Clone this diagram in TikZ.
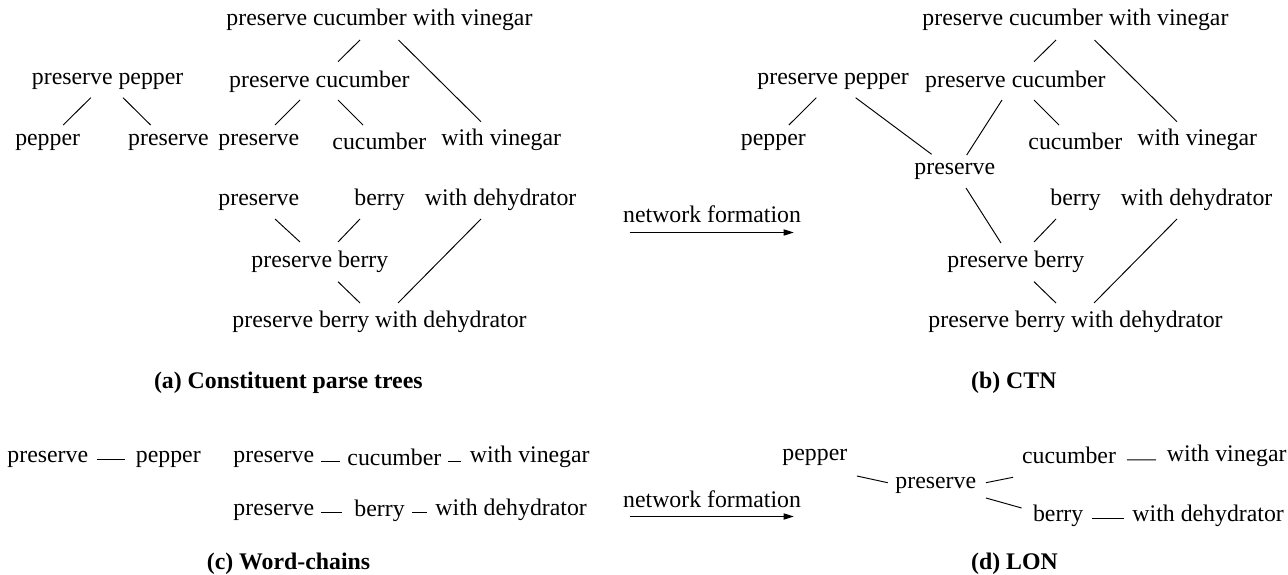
\documentclass[tikz,border=0pt]{standalone}
\usepackage{fontspec}
\setmainfont{Liberation Serif}
\usetikzlibrary{calc,arrows.meta}
\begin{document}
\begin{tikzpicture}[x=0.42017pt,y=-0.42017pt,
  font=\fontsize{10}{12}\selectfont,
  lbl/.style={inner sep=0pt, anchor=base west},
  captxt/.style={inner sep=0pt, anchor=base, font=\fontsize{10}{12}\selectfont\bfseries},
  edge/.style={line width=0.4pt},
  flow/.style={line width=0.45pt,-{Triangle[length=4.2pt,width=2.6pt]}}]
\useasboundingbox (0,0) rectangle (1288,575);

% ---------------- (a) constituent parse trees
\node[lbl] (A1) at (226,26) {preserve cucumber with vinegar};
\node[lbl] (A2) at (228.7,88) {preserve cucumber};
\node[lbl] (A3) at (31.5,85) {preserve pepper};
\node[lbl] (A4) at (14.8,146) {pepper};
\node[lbl] (A5) at (127.7,146) {preserve};
\node[lbl] (A6) at (218,146) {preserve};
\node[lbl] (A7) at (332,150) {cucumber};
\node[lbl] (A8) at (441,146) {with vinegar};
\node[lbl] (A9) at (218,206) {preserve};
\node[lbl] (A10) at (354,206) {berry};
\node[lbl] (A11) at (424.5,206) {with dehydrator};
\node[lbl] (A12) at (251,268) {preserve berry};
\node[lbl] (A13) at (232,328) {preserve berry with dehydrator};

\draw[edge] ($(A1.base west)+(134,14)$) -- ($(A2.base west)+(109.3,-26.3)$);
\draw[edge] ($(A1.base west)+(172.5,14)$) -- ($(A8.base west)+(40,-24.3)$);
\draw[edge] ($(A3.base west)+(59.3,12.7)$) -- ($(A4.base west)+(48.4,-21)$);
\draw[edge] ($(A3.base west)+(91.5,12.7)$) -- ($(A5.base west)+(22.9,-21)$);
\draw[edge] ($(A2.base west)+(71.3,12)$) -- ($(A6.base west)+(57,-21)$);
\draw[edge] ($(A2.base west)+(109.3,12)$) -- ($(A7.base west)+(31,-25)$);
\draw[edge] ($(A9.base west)+(57,13)$) -- ($(A12.base west)+(49,-26)$);
\draw[edge] ($(A10.base west)+(6,13)$) -- ($(A12.base west)+(87,-26)$);
\draw[edge] ($(A11.base west)+(56.5,13)$) -- ($(A13.base west)+(166,-25)$);
\draw[edge] ($(A12.base west)+(87,13.7)$) -- ($(A13.base west)+(128,-25)$);

\node[captxt] (CA) at (288.3,389) {(a) Constituent parse trees};

% ---------------- network formation arrows
\node[lbl] (N1) at (622.7,223) {network formation};
\draw[flow] ($(N1.base west)+(7,9.5)$) -- ($(N1.base west)+(171,9.5)$);
\node[lbl] (N2) at (622.7,507) {network formation};
\draw[flow] ($(N2.base west)+(7,9.5)$) -- ($(N2.base west)+(171,9.5)$);

% ---------------- (b) CTN
\node[lbl] (B1) at (922,26) {preserve cucumber with vinegar};
\node[lbl] (B2) at (924.7,88) {preserve cucumber};
\node[lbl] (B3) at (757,85) {preserve pepper};
\node[lbl] (B4) at (740.5,146) {pepper};
\node[lbl] (B5) at (1028,150) {cucumber};
\node[lbl] (B6) at (1137,146) {with vinegar};
\node[lbl] (B7) at (914,175) {preserve};
\node[lbl] (B8) at (1050,206) {berry};
\node[lbl] (B9) at (1120.5,206) {with dehydrator};
\node[lbl] (B10) at (947,268) {preserve berry};
\node[lbl] (B11) at (928,328) {preserve berry with dehydrator};

\draw[edge] ($(B1.base west)+(134,14)$) -- ($(B2.base west)+(109.3,-26.3)$);
\draw[edge] ($(B1.base west)+(172.5,14)$) -- ($(B6.base west)+(40,-24.3)$);
\draw[edge] ($(B3.base west)+(59.3,12.7)$) -- ($(B4.base west)+(48.4,-21)$);
\draw[edge] ($(B3.base west)+(98.6,12.7)$) -- ($(B7.base west)+(17.6,-20.7)$);
\draw[edge] ($(B2.base west)+(77.3,12)$) -- ($(B7.base west)+(52.7,-20)$);
\draw[edge] ($(B2.base west)+(109.3,12)$) -- ($(B5.base west)+(31,-25)$);
\draw[edge] ($(B7.base west)+(52,13)$) -- ($(B10.base west)+(54,-25)$);
\draw[edge] ($(B8.base west)+(6,13)$) -- ($(B10.base west)+(87,-26)$);
\draw[edge] ($(B9.base west)+(56.5,13)$) -- ($(B11.base west)+(166,-25)$);
\draw[edge] ($(B10.base west)+(87,13.7)$) -- ($(B11.base west)+(128,-25)$);

\node[captxt] (CB) at (1013.8,389) {(b) CTN};

% ---------------- (c) word-chains
\node[lbl] (C1) at (7,462) {preserve};
\node[lbl] (C2) at (135.5,462) {pepper};
\node[lbl] (C3) at (233,462) {preserve};
\node[lbl] (C4) at (347,465) {cucumber};
\node[lbl] (C5) at (469.5,462) {with vinegar};
\node[lbl] (C6) at (233,515) {preserve};
\node[lbl] (C7) at (354,516) {berry};
\node[lbl] (C8) at (435,515) {with dehydrator};

\draw[edge] ($(C1.base east)+(8,-3)$) -- ($(C2.base west)+(-11,-3)$);
\draw[edge] ($(C3.base east)+(6.5,-1)$) -- ($(C4.base west)+(-7,-4)$);
\draw[edge] ($(C4.base east)+(6,-4)$) -- ($(C5.base west)+(-9,-1)$);
\draw[edge] ($(C6.base east)+(6.4,-3)$) -- ($(C7.base west)+(-12,-4)$);
\draw[edge] ($(C7.base east)+(7,-4)$) -- ($(C8.base west)+(-8,-3)$);

\node[captxt] (CC) at (288.5,569) {(c) Word-chains};

% ---------------- (d) LON
\node[lbl] (D1) at (782,460) {pepper};
\node[lbl] (D2) at (895,488) {preserve};
\node[lbl] (D3) at (1021.6,463.3) {cucumber};
\node[lbl] (D4) at (1166.5,461.7) {with vinegar};
\node[lbl] (D5) at (1032.6,521.7) {berry};
\node[lbl] (D6) at (1132,521.7) {with dehydrator};

\draw[edge] ($(D1.base east)+(9.2,16)$) -- ($(D2.base west)+(-7.3,-5.3)$);
\draw[edge] ($(D2.base east)+(9.4,-5.3)$) -- ($(D3.base west)+(-8.6,14)$);
\draw[edge] ($(D2.base east)+(9.4,10)$) -- ($(D5.base west)+(-11,-13.7)$);
\draw[edge] ($(D3.base east)+(10.6,-3.5)$) -- ($(D4.base west)+(-10.5,-1.8)$);
\draw[edge] ($(D5.base east)+(8.2,-3.5)$) -- ($(D6.base west)+(-8.5,-3.5)$);

\node[captxt] (CD) at (1014.5,569) {(d) LON};
\end{tikzpicture}
\end{document}
